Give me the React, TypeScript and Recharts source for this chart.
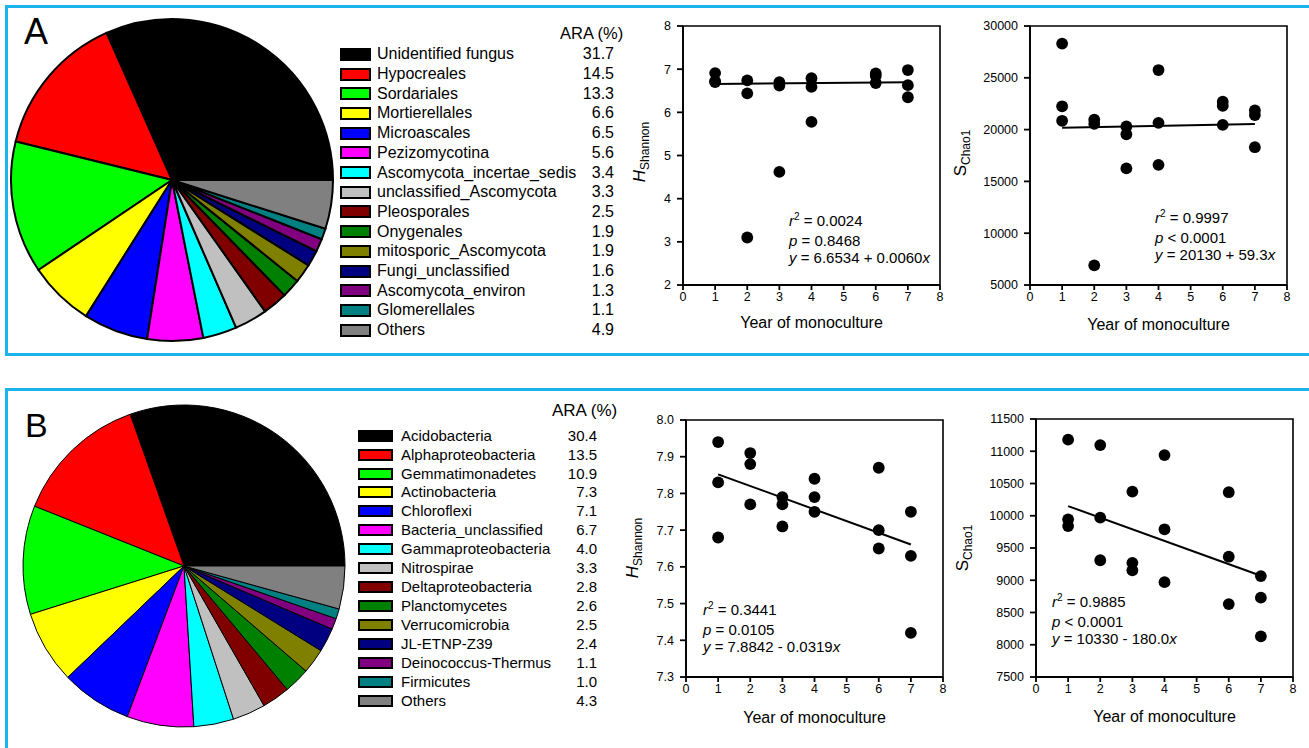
import React from 'react';
import {
  ScatterChart, Scatter, XAxis, YAxis, ReferenceLine, ReferenceArea,
  PieChart, Pie, Cell,
} from 'recharts';

const FONT = '"Liberation Sans", Arial, Helvetica, sans-serif';

// ---------- Panel A (fungi) ----------
const fungiTaxa = [
  'Unidentified fungus', 'Hypocreales', 'Sordariales', 'Mortierellales', 'Microascales',
  'Pezizomycotina', 'Ascomycota_incertae_sedis', 'unclassified_Ascomycota', 'Pleosporales',
  'Onygenales', 'mitosporic_Ascomycota', 'Fungi_unclassified', 'Ascomycota_environ',
  'Glomerellales', 'Others',
];
const fungiARA = [31.7, 14.5, 13.3, 6.6, 6.5, 5.6, 3.4, 3.3, 2.5, 1.9, 1.9, 1.6, 1.3, 1.1, 4.9];

// ---------- Panel B (bacteria) ----------
const bacteriaTaxa = [
  'Acidobacteria', 'Alphaproteobacteria', 'Gemmatimonadetes', 'Actinobacteria', 'Chloroflexi',
  'Bacteria_unclassified', 'Gammaproteobacteria', 'Nitrospirae', 'Deltaproteobacteria',
  'Planctomycetes', 'Verrucomicrobia', 'JL-ETNP-Z39', 'Deinococcus-Thermus', 'Firmicutes', 'Others',
];
const bacteriaARA = [30.4, 13.5, 10.9, 7.3, 7.1, 6.7, 4.0, 3.3, 2.8, 2.6, 2.5, 2.4, 1.1, 1.0, 4.3];

const palette = [
  '#000000', '#ff0000', '#00ff00', '#ffff00', '#0000ff', '#ff00ff', '#00ffff', '#c0c0c0',
  '#800000', '#008000', '#808000', '#000080', '#800080', '#008080', '#808080',
];

// ---------- Regression scatter data ----------
const years = [1, 1, 1, 2, 2, 2, 3, 3, 3, 4, 4, 4, 6, 6, 6, 7, 7, 7];
const fungiShannon = [6.91, 6.72, 6.70, 6.74, 6.44, 3.10, 6.70, 6.62, 4.62, 6.79, 6.59, 5.78, 6.90, 6.84, 6.68, 6.98, 6.63, 6.35];
const fungiChao1 = [28300, 22250, 20850, 20950, 20550, 6900, 20300, 19550, 16250, 25750, 20650, 16600, 22700, 22300, 20450, 21850, 21400, 18300];
const bacteriaShannon = [7.94, 7.83, 7.68, 7.91, 7.88, 7.77, 7.79, 7.77, 7.71, 7.84, 7.79, 7.75, 7.87, 7.70, 7.65, 7.75, 7.63, 7.42];
const bacteriaChao1 = [11180, 9945, 9840, 11095, 9970, 9310, 10375, 9270, 9155, 10940, 9790, 8970, 10365, 9365, 8630, 9065, 8730, 8130];

const trendYears = [1, 7];
const fungiShannonTrend = [6.659, 6.695];
const fungiChao1Trend = [20189, 20545];
const bacteriaShannonTrend = [7.852, 7.661];
const bacteriaChao1Trend = [10150, 9070];

const xTicks = [0, 1, 2, 3, 4, 5, 6, 7, 8];
const fungiShannonTicks = [2, 3, 4, 5, 6, 7, 8];
const fungiChao1Ticks = [5000, 10000, 15000, 20000, 25000, 30000];
const bacteriaShannonTicks = [7.3, 7.4, 7.5, 7.6, 7.7, 7.8, 7.9, 8.0];
const bacteriaChao1Ticks = [7500, 8000, 8500, 9000, 9500, 10000, 10500, 11000, 11500];

const toPoints = (xs: number[], ys: number[]) => xs.map((x, i) => ({ x, y: ys[i] }));

function Dot(props: any) {
  if (props.cx == null || props.cy == null) return null;
  return <circle cx={props.cx} cy={props.cy} r={5.9} fill="#000" />;
}

const axisLine = { stroke: '#000', strokeWidth: 1.8 };
const tickStyle = { fill: '#000', fontSize: 12.5, fontFamily: FONT };

function RegPlot(props: {
  plotLeft: number; plotTop: number; plotW: number; plotH: number;
  data: { x: number; y: number }[]; yTicks: number[]; fmt?: (v: number) => string;
  trend: { x: number; y: number }[];
}) {
  const { plotLeft, plotTop, plotW, plotH, data, yTicks, fmt, trend } = props;
  const padL = 75, padT = 20, padR = 20, padB = 10, xH = 50;
  const W = padL + plotW + padR;
  const H = padT + plotH + xH + padB;
  const yMin = yTicks[0];
  const yMax = yTicks[yTicks.length - 1];
  return (
    <div style={{ position: 'absolute', left: plotLeft - padL, top: plotTop - padT }}>
      <ScatterChart width={W} height={H} margin={{ top: padT, right: padR, bottom: padB, left: 0 }}>
        <XAxis
          type="number" dataKey="x" domain={[0, 8]} ticks={xTicks} interval={0}
          height={xH} axisLine={axisLine} tickLine={axisLine} tickSize={5} tickMargin={2}
          tick={tickStyle} allowDataOverflow
        />
        <YAxis
          type="number" dataKey="y" domain={[yMin, yMax]} ticks={yTicks} interval={0}
          width={padL} axisLine={axisLine} tickLine={axisLine} tickSize={6} tickMargin={6}
          tick={tickStyle} tickFormatter={fmt} allowDataOverflow
        />
        <ReferenceArea x1={0} x2={8} y1={yMin} y2={yMax} fill="none" fillOpacity={0} stroke="#000" strokeWidth={1.6} />
        <ReferenceLine segment={trend} stroke="#000" strokeWidth={2} />
        <Scatter data={data} shape={<Dot />} isAnimationActive={false} />
      </ScatterChart>
    </div>
  );
}

function Legend(props: {
  taxa: string[]; values: number[]; swLeft: number; swW: number; swH: number; swBorder: number;
  textLeft: number; valRight: number; firstY: number; step: number; fontSize: number;
  headLeft: number; headY: number; headSize: number;
}) {
  const p = props;
  const lh = 20;
  return (
    <>
      <div style={{ position: 'absolute', left: p.headLeft, top: p.headY - lh / 2, lineHeight: `${lh}px`, fontSize: p.headSize, whiteSpace: 'nowrap' }}>
        ARA (%)
      </div>
      {p.taxa.map((t, i) => {
        const cy = p.firstY + i * p.step;
        return (
          <React.Fragment key={t}>
            <div style={{
              position: 'absolute', left: p.swLeft, top: cy - p.swH / 2, width: p.swW, height: p.swH,
              boxSizing: 'border-box', border: `${p.swBorder}px solid #000`, background: palette[i],
            }} />
            <div style={{ position: 'absolute', left: p.textLeft, top: cy - lh / 2, lineHeight: `${lh}px`, fontSize: p.fontSize, whiteSpace: 'nowrap' }}>
              {t}
            </div>
            <div style={{ position: 'absolute', left: p.valRight - 60, width: 60, textAlign: 'right', top: cy - lh / 2, lineHeight: `${lh}px`, fontSize: p.fontSize }}>
              {p.values[i].toFixed(1)}
            </div>
          </React.Fragment>
        );
      })}
    </>
  );
}

function PiePanel(props: { taxa: string[]; values: number[]; cx: number; cy: number; r: number; sw: number }) {
  const data = props.taxa.map((name, i) => ({ name, value: props.values[i] }));
  return (
    <div style={{ position: 'absolute', left: 0, top: 0 }}>
      <PieChart width={props.cx + props.r + 10} height={props.cy + props.r + 10} margin={{ top: 0, right: 0, bottom: 0, left: 0 }}>
        <Pie
          data={data} dataKey="value" nameKey="name" cx={props.cx} cy={props.cy}
          outerRadius={props.r} innerRadius={0} startAngle={0} endAngle={360}
          stroke="#000" strokeWidth={props.sw} isAnimationActive={false} label={false} labelLine={false}
        >
          {data.map((d, i) => <Cell key={d.name} fill={palette[i]} stroke="#000" strokeWidth={props.sw} />)}
        </Pie>
      </PieChart>
    </div>
  );
}

function YLabel(props: { x: number; y: number; main: string; sub: string; italic: boolean }) {
  return (
    <div style={{ position: 'absolute', left: props.x, top: props.y, width: 0, height: 0 }}>
      <div style={{
        position: 'absolute', left: 0, top: 0, transform: 'translate(-50%, -50%) rotate(-90deg)',
        whiteSpace: 'nowrap', lineHeight: '18px',
      }}>
        <span style={{ fontSize: 17, fontStyle: props.italic ? 'italic' : 'normal' }}>{props.main}</span>
        <span style={{ fontSize: 12, position: 'relative', top: 4 }}>{props.sub}</span>
      </div>
    </div>
  );
}

function XLabel(props: { x: number; y: number }) {
  return (
    <div style={{
      position: 'absolute', left: props.x - 150, width: 300, textAlign: 'center', top: props.y - 10,
      lineHeight: '20px', fontSize: 16, whiteSpace: 'nowrap',
    }}>
      Year of monoculture
    </div>
  );
}

function Stats(props: { left: number; top: number; r2: string; p: string; eq: string }) {
  return (
    <div style={{ position: 'absolute', left: props.left, top: props.top, fontSize: 15, lineHeight: '17.6px', whiteSpace: 'nowrap' }}>
      <div>
        <i>r</i><span style={{ fontSize: 10, position: 'relative', top: -6 }}>2</span> = {props.r2}
      </div>
      <div><i>p</i> {props.p}</div>
      <div><i>y</i> = {props.eq}<i>x</i></div>
    </div>
  );
}

const frameColor = '#1cb4ec';

export default function App() {
  return (
    <div style={{ position: 'absolute', left: 0, top: 0, width: 1309, height: 748, overflow: 'hidden', background: '#fff', fontFamily: FONT, color: '#000' }}>
      {/* frames */}
      <div style={{ position: 'absolute', left: 5, top: 5, width: 1330, height: 351, boxSizing: 'border-box', border: `3px solid ${frameColor}` }} />
      <div style={{ position: 'absolute', left: 5, top: 388, width: 1330, height: 400, boxSizing: 'border-box', border: `3px solid ${frameColor}` }} />

      {/* Panel A */}
      <PiePanel taxa={fungiTaxa} values={fungiARA} cx={172} cy={180} r={161} sw={2} />
      <div style={{ position: 'absolute', left: 24, top: 13.5, fontSize: 36, lineHeight: '36px' }}>A</div>
      <Legend
        taxa={fungiTaxa} values={fungiARA} swLeft={340} swW={31} swH={13} swBorder={2}
        textLeft={377} valRight={614} firstY={54.3} step={19.7} fontSize={16}
        headLeft={560} headY={33} headSize={16.5}
      />
      <RegPlot plotLeft={683} plotTop={26} plotW={257} plotH={259}
        data={toPoints(years, fungiShannon)} yTicks={fungiShannonTicks}
        trend={toPoints(trendYears, fungiShannonTrend)} />
      <YLabel x={640} y={152} main="H" sub="Shannon" italic />
      <XLabel x={811.5} y={323} />
      <Stats left={789} top={212} r2="0.0024" p="= 0.8468" eq="6.6534 + 0.0060" />

      <RegPlot plotLeft={1030} plotTop={26} plotW={257} plotH={259}
        data={toPoints(years, fungiChao1)} yTicks={fungiChao1Ticks}
        trend={toPoints(trendYears, fungiChao1Trend)} />
      <YLabel x={961} y={153} main="S" sub="Chao1" italic={false} />
      <XLabel x={1158.5} y={325} />
      <Stats left={1155} top={209} r2="0.9997" p="< 0.0001" eq="20130 + 59.3" />

      {/* Panel B */}
      <PiePanel taxa={bacteriaTaxa} values={bacteriaARA} cx={184} cy={566} r={161} sw={1} />
      <div style={{ position: 'absolute', left: 25, top: 408, fontSize: 34, lineHeight: '34px' }}>B</div>
      <Legend
        taxa={bacteriaTaxa} values={bacteriaARA} swLeft={358} swW={35} swH={12} swBorder={2}
        textLeft={401} valRight={597} firstY={435.7} step={18.93} fontSize={15}
        headLeft={552} headY={411} headSize={17}
      />
      <RegPlot plotLeft={686} plotTop={420} plotW={257} plotH={257}
        data={toPoints(years, bacteriaShannon)} yTicks={bacteriaShannonTicks}
        fmt={(v: number) => v.toFixed(1)}
        trend={toPoints(trendYears, bacteriaShannonTrend)} />
      <YLabel x={633} y={548} main="H" sub="Shannon" italic />
      <XLabel x={814.5} y={718} />
      <Stats left={703} top={601} r2="0.3441" p="= 0.0105" eq="7.8842 - 0.0319" />

      <RegPlot plotLeft={1036} plotTop={419} plotW={257} plotH={258}
        data={toPoints(years, bacteriaChao1)} yTicks={bacteriaChao1Ticks}
        trend={toPoints(trendYears, bacteriaChao1Trend)} />
      <YLabel x={963} y={548} main="S" sub="Chao1" italic={false} />
      <XLabel x={1164.5} y={717} />
      <Stats left={1052} top={593} r2="0.9885" p="< 0.0001" eq="10330 - 180.0" />
    </div>
  );
}
